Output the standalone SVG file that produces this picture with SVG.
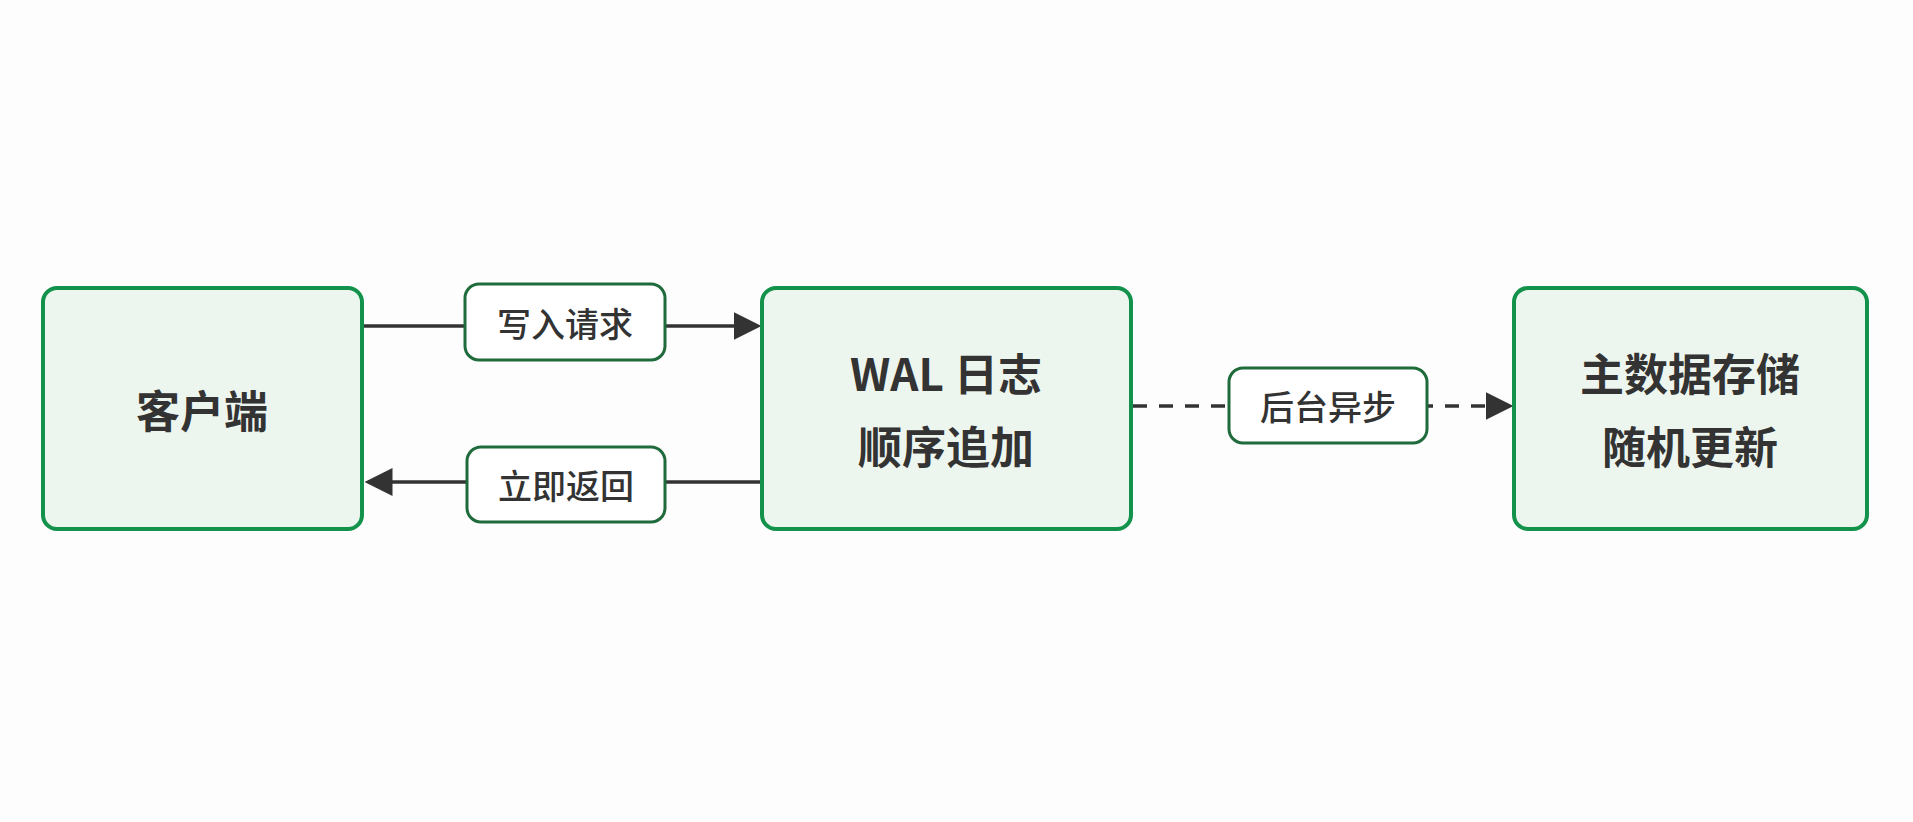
<svg xmlns="http://www.w3.org/2000/svg" width="1913" height="822" viewBox="0 0 1913 822">
<style>
.node{fill:#edf6ee;stroke:#12924a;stroke-width:4}
.lab{fill:#fff;stroke:#1f6b3c;stroke-width:3}
.t{font-family:"Noto Sans CJK SC","Liberation Sans",sans-serif;font-weight:700;fill:#333;text-anchor:middle;dominant-baseline:central}
.big{font-size:44px}
.sm{font-size:34px;font-weight:500}
.ln{stroke:#333;stroke-width:3.5;fill:none}
</style>
<defs><marker id="a" markerWidth="8" markerHeight="8" refX="7" refY="4" orient="auto" markerUnits="strokeWidth"><path d="M0,0L8,4L0,8z" fill="#333"/></marker></defs>
<rect width="1913" height="822" fill="#fdfdfd"/>
<g id="connectors">
<path class="ln" d="M364,326H758" marker-end="url(#a)"/>
<path class="ln" d="M760,482H368" marker-end="url(#a)"/>
<path class="ln" d="M1133,406H1510" stroke-dasharray="14,12" marker-end="url(#a)"/>
<rect class="lab" x="465" y="284" width="200" height="76" rx="14"/><text class="t sm" x="565" y="322">写入请求</text>
<rect class="lab" x="467" y="447" width="198" height="75" rx="14"/><text class="t sm" x="566" y="484">立即返回</text>
<rect class="lab" x="1229" y="368" width="198" height="75" rx="14"/><text class="t sm" x="1328" y="405">后台异步</text>
</g>
<g id="client"><rect class="node" x="43" y="288" width="319" height="241" rx="14"/><text class="t big" x="202" y="409">客户端</text></g>
<g id="wal"><rect class="node" x="762" y="288" width="369" height="241" rx="14"/><text class="t big" x="946" y="372">WAL 日志</text><text class="t big" x="946" y="445">顺序追加</text></g>
<g id="store"><rect class="node" x="1514" y="288" width="353" height="241" rx="14"/><text class="t big" x="1690" y="372">主数据存储</text><text class="t big" x="1690" y="445">随机更新</text></g>
</svg>
